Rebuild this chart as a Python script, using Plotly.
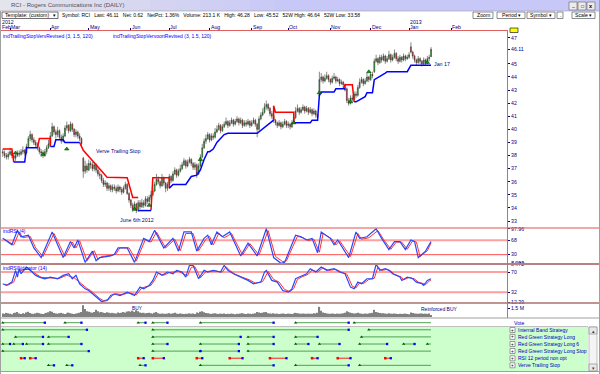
import plotly.graph_objects as go
import pandas as pd

FONT = "Liberation Sans"
NAVY = "#000080"

# ---------------- data ----------------
dates = list(pd.bdate_range("2012-02-24", "2013-01-17"))  # 235 trading days

opens = [38.3,38.2,38.0,37.9,38.1,38.3,38.0,37.8,38.0,38.2,
 38.1,38.3,38.4,38.2,38.7,39.3,39.6,39.2,39.0,38.8,
 38.6,38.3,38.2,38.0,38.3,38.6,38.9,39.5,40.2,39.8,
 39.6,39.9,39.4,39.1,39.5,40.1,40.3,39.9,40.4,40.0,
 39.6,39.8,39.5,39.3,37.8,36.8,37.2,36.9,37.4,37.3,
 37.0,37.3,36.9,36.6,36.5,36.1,35.8,35.9,35.5,35.7,
 35.4,35.6,35.5,35.3,35.6,35.4,35.2,35.5,35.8,35.1,
 34.6,34.2,33.9,34.3,33.8,34.4,34.1,34.4,34.2,34.7,
 34.5,34.8,35.0,35.3,35.8,36.2,36.0,35.7,36.3,35.9,
 35.5,35.8,36.4,36.1,36.6,36.9,36.5,36.8,37.0,37.3,
 37.6,37.2,37.5,37.7,37.4,37.1,37.3,36.6,37.2,37.9,
 38.6,39.1,39.3,39.6,39.2,39.5,39.4,39.8,40.0,40.3,
 39.9,40.2,40.4,40.6,40.3,40.5,40.7,40.4,40.6,40.8,
 40.5,40.7,40.3,40.5,40.4,40.6,40.3,40.5,40.7,40.4,
 40.0,40.8,41.1,41.3,41.7,41.9,41.6,41.2,41.0,40.7,
 40.5,40.3,40.5,40.2,40.4,40.6,40.3,40.4,40.2,40.5,
 40.9,41.4,41.6,41.3,41.5,41.7,41.4,41.6,41.3,41.5,
 41.2,41.4,41.1,42.6,43.8,44.0,43.7,43.9,44.1,43.8,
 43.6,43.9,44.0,43.7,43.8,43.5,43.6,43.4,43.1,42.2,
 42.0,42.4,42.3,42.7,42.6,43.2,43.6,43.8,43.5,43.7,
 44.0,43.8,44.2,44.4,45.2,45.4,45.1,45.5,45.3,45.6,
 45.2,45.4,45.7,45.3,45.5,45.8,45.4,45.2,45.5,45.3,
 45.6,45.4,45.5,46.3,45.9,45.6,45.3,45.1,45.4,45.2,
 45.0,45.3,45.1,45.4,45.55]

closes = [38.2,38.0,37.9,38.1,38.3,38.0,37.8,38.0,38.2,38.1,
 38.3,38.4,38.2,38.7,39.3,39.6,39.2,39.0,38.8,38.6,
 38.3,38.2,38.0,38.3,38.6,38.9,39.5,40.2,39.8,39.6,
 39.9,39.4,39.1,39.5,40.1,40.3,39.9,40.4,40.0,39.6,
 39.8,39.5,39.3,38.9,36.8,37.2,36.9,37.4,37.3,37.0,
 37.3,36.9,36.6,36.5,36.1,35.8,35.9,35.5,35.7,35.4,
 35.6,35.5,35.3,35.6,35.4,35.2,35.5,35.8,35.1,34.6,
 34.2,33.9,34.3,33.8,34.4,34.1,34.4,34.2,34.7,34.5,
 34.8,35.0,35.3,35.8,36.2,36.0,35.7,36.3,35.9,35.5,
 35.8,36.4,36.1,36.6,36.9,36.5,36.8,37.0,37.3,37.6,
 37.2,37.5,37.7,37.4,37.1,37.3,36.6,37.2,37.9,38.6,
 39.1,39.3,39.6,39.2,39.5,39.4,39.8,40.0,40.3,39.9,
 40.2,40.4,40.6,40.3,40.5,40.7,40.4,40.6,40.8,40.5,
 40.7,40.3,40.5,40.4,40.6,40.3,40.5,40.7,40.4,40.0,
 40.8,41.1,41.3,41.7,41.9,41.6,41.2,41.0,40.7,40.5,
 40.3,40.5,40.2,40.4,40.6,40.3,40.4,40.2,40.5,40.9,
 41.4,41.6,41.3,41.5,41.7,41.4,41.6,41.3,41.5,41.2,
 41.4,41.1,40.9,43.8,44.0,43.7,43.9,44.1,43.8,43.6,
 43.9,44.0,43.7,43.8,43.5,43.6,43.4,43.0,42.2,42.0,
 42.4,42.3,42.7,42.6,43.2,43.6,43.8,43.5,43.7,44.0,
 43.8,44.2,44.1,45.2,45.4,45.1,45.5,45.3,45.6,45.2,
 45.4,45.7,45.3,45.5,45.8,45.4,45.2,45.5,45.3,45.6,
 45.4,45.5,45.7,45.9,45.6,45.3,45.1,45.4,45.2,45.0,
 45.3,45.1,45.4,45.49,46.11]

highs = [38.5,38.4,38.2,38.3,38.6,38.4,38.1,38.2,38.4,38.4,
 38.5,38.7,38.5,38.9,39.5,39.9,39.7,39.4,39.2,39.0,
 38.7,38.5,38.4,38.5,38.8,39.2,39.8,40.5,40.3,40.0,
 40.2,40.0,39.6,39.7,40.3,40.6,40.4,40.6,40.5,40.1,
 40.0,39.9,39.7,39.4,37.9,37.6,37.4,37.7,37.6,37.5,
 37.5,37.4,37.1,36.8,36.6,36.3,36.1,36.0,35.9,35.8,
 35.8,35.8,35.7,35.8,35.7,35.6,35.7,36.0,35.9,35.2,
 34.7,34.4,34.5,34.4,34.6,34.6,34.7,34.6,34.9,34.9,
 35.0,35.3,35.5,36.0,36.6,36.4,36.1,36.6,36.4,36.0,
 36.0,36.6,36.5,36.8,37.1,37.0,37.0,37.3,37.5,37.8,
 37.7,37.7,37.9,37.8,37.5,37.5,37.4,37.4,38.1,38.9,
 39.3,39.6,39.8,39.7,39.7,39.7,40.1,40.3,40.5,40.4,
 40.4,40.6,40.9,40.7,40.7,40.9,40.8,40.8,41.0,40.9,
 40.9,40.8,40.7,40.7,40.8,40.7,40.7,40.9,40.8,40.5,
 41.0,41.3,41.6,42.0,42.2,42.0,41.7,41.4,41.1,40.8,
 40.6,40.7,40.6,40.6,40.8,40.7,40.6,40.5,40.7,41.1,
 41.7,41.9,41.7,41.7,41.9,41.8,41.8,41.7,41.7,41.6,
 41.6,41.5,41.2,44.4,44.3,44.1,44.2,44.4,44.2,43.9,
 44.1,44.3,44.1,44.0,43.9,43.8,43.7,43.5,43.2,42.4,
 42.6,42.6,42.9,42.9,43.4,43.9,44.0,43.9,43.9,44.3,
 44.1,44.4,44.4,45.4,45.7,45.5,45.7,45.7,45.8,45.7,
 45.6,46.0,45.8,45.7,46.1,45.9,45.6,45.7,45.6,45.8,
 45.7,45.7,45.9,46.64,46.0,45.7,45.4,45.6,45.5,45.3,
 45.5,45.4,45.6,45.7,46.28]

lows = [37.9,37.8,37.7,37.7,38.0,37.8,37.6,37.6,37.9,37.9,
 38.0,38.1,38.0,38.1,38.6,39.1,39.0,38.8,38.6,38.4,
 38.1,37.9,37.8,37.9,38.1,38.5,38.8,39.4,39.6,39.3,
 39.4,39.2,38.9,39.0,39.4,39.9,39.7,39.8,39.8,39.4,
 39.4,39.3,39.1,38.7,36.3,36.6,36.7,36.8,37.0,36.8,
 36.8,36.7,36.4,36.2,35.9,35.6,35.6,35.3,35.3,35.2,
 35.2,35.3,35.1,35.2,35.2,35.0,35.1,35.4,35.0,34.4,
 34.0,33.7,33.8,33.6,33.7,33.9,34.0,34.0,34.1,34.3,
 34.3,34.6,34.9,35.2,35.7,35.8,35.5,35.6,35.7,35.2,
 35.3,35.7,35.9,36.0,36.5,36.3,36.4,36.7,36.9,37.2,
 37.0,37.1,37.4,37.2,36.9,36.9,36.3,36.5,37.1,37.8,
 38.5,38.9,39.2,39.0,39.1,39.2,39.3,39.7,39.9,39.7,
 39.8,40.1,40.3,40.1,40.2,40.4,40.2,40.3,40.5,40.3,
 40.4,40.1,40.2,40.2,40.3,40.1,40.2,40.4,40.2,39.4,
 39.9,40.7,41.0,41.2,41.5,41.4,41.0,40.8,40.5,40.3,
 40.1,40.2,40.0,40.1,40.3,40.1,40.1,40.0,40.1,40.4,
 40.8,41.3,41.1,41.2,41.4,41.2,41.3,41.1,41.2,41.0,
 41.1,40.9,40.7,42.5,43.6,43.5,43.6,43.8,43.6,43.4,
 43.5,43.8,43.5,43.6,43.3,43.4,43.2,42.9,42.0,41.8,
 41.9,42.1,42.2,42.4,42.5,43.1,43.5,43.3,43.4,43.6,
 43.6,43.7,43.9,44.3,45.1,44.9,45.0,45.1,45.2,45.0,
 45.1,45.3,45.1,45.2,45.4,45.2,45.0,45.1,45.1,45.2,
 45.2,45.3,45.4,45.8,45.4,45.1,44.9,45.0,45.0,44.8,
 44.9,44.9,45.0,45.2,45.52]

volumes_k = [420,380,510,460,390,350,480,520,610,430,370,450,390,560,640,480,410,380,440,520,
 470,390,360,430,510,580,720,650,480,420,390,460,510,430,380,450,540,470,410,380,
 430,460,520,610,1450,980,720,640,580,520,610,880,700,560,620,540,480,590,520,470,
 510,460,430,560,490,520,610,540,680,720,650,780,620,840,700,560,480,520,450,490,
 530,470,410,520,610,460,390,440,410,380,420,470,390,450,510,420,380,440,400,360,
 410,380,450,390,420,370,560,480,650,720,580,490,450,410,380,430,470,400,360,420,
 390,440,380,410,360,420,390,350,410,380,430,470,400,380,420,390,360,410,450,620,
 540,480,520,590,610,470,430,410,450,390,420,380,410,440,390,370,420,400,380,430,
 510,470,420,390,440,410,380,420,390,410,450,430,520,1250,780,560,480,430,410,390,
 440,410,380,420,390,410,460,520,720,610,530,480,440,470,520,450,410,380,430,400,
 420,460,510,880,620,540,480,440,470,420,400,450,410,390,430,400,380,410,360,390,
 420,380,350,560,480,430,410,390,440,420,380,410,390,430,213]

# trailing stops (trading-day index, level); None breaks the line
red_stop_idx = [0,5,6,None,19,20,26,26,None,42,44,51,57,68,71,74,None,81,82,91,91,None,
                148,148,149,159,159,None,186,187,191,192]
red_stop_val = [38.5,38.5,37.5,None,38.6,39.3,39.3,38.7,None,39.0,38.4,37.3,36.35,36.3,34.8,34.8,None,
                33.8,36.3,36.3,35.5,None,40.7,41.8,41.3,41.3,40.5,None,43.1,43.4,43.4,42.1]
blue_stop_idx = [6,12,13,19,None,26,28,29,33,34,42,None,74,81,None,
                 91,93,100,103,106,108,110,112,113,115,117,119,121,123,139,148,None,
                 159,168,169,172,173,174,181,182,187,None,
                 192,193,198,199,202,203,209,210,221,223,234]
blue_stop_val = [37.5,37.5,38.6,38.6,None,38.7,38.7,39.2,39.2,39.0,39.0,None,33.8,33.8,None,
                 35.5,35.8,35.8,36.4,36.5,36.9,37.7,38.3,38.3,38.5,39.0,39.3,39.6,39.7,39.7,40.7,None,
                 40.5,40.5,40.7,40.7,42.6,42.85,42.85,43.1,43.1,None,
                 42.1,42.1,42.5,42.8,42.8,43.8,44.3,44.4,44.4,44.9,44.9]

signal_idx = [7,22,35,72,80,108,159,173,190,200,232]
signal_price = [38.2,38.1,38.5,33.9,34.2,37.7,40.5,42.8,42.1,44.4,45.1]

# RSI(4) and its signal
rsi4_idx = [0,5,8,10,14,17,21,27,33,37,39,41,45,49,51,53,59,61,63,68,72,77,80,83,88,93,96,99,103,106,
            110,112,114,117,120,124,126,130,134,139,144,148,152,154,160,163,166,169,172,174,179,181,183,
            189,193,195,199,204,207,211,214,217,220,223,225,227,231,234]
rsi4_val = [72.8,56,93.8,77,81.2,47.6,22.4,89.6,22.4,64.4,47.6,68.6,9.8,39.2,14,22.4,26.6,30.8,47.6,47.6,
            9.8,72.8,64.4,93.8,47.6,72.8,39.2,89.6,89.6,39.2,72.8,81.2,56,89.6,77,89.6,68.6,26.6,60.2,26.6,
            98,22.4,7.3,9.8,81.2,77,68.6,72.8,35,89.6,72.8,56,68.6,22.4,89.6,72.8,77,98,72.8,43.4,
            64.4,64.4,43.4,68.6,64.4,22.4,39.2,64.4]
rsi4_sig_idx = [1,6,9,11,15,18,22,28,34,38,40,42,46,50,52,54,60,62,64,69,73,78,81,84,89,94,97,100,104,107,
                111,113,115,118,121,125,127,131,135,140,145,149,153,155,161,164,167,170,173,175,180,182,184,
                190,194,196,200,205,208,212,215,218,221,224,226,228,232,234]
rsi4_sig_val = [70.5,55.4,89.4,74.3,78.1,47.8,25.2,85.6,25.2,63,47.8,66.7,13.8,40.3,17.6,25.2,28.9,32.7,47.8,47.8,
                13.8,70.5,63,89.4,47.8,70.5,40.3,85.6,85.6,40.3,70.5,78.1,55.4,85.6,74.3,85.6,66.7,28.9,59.2,28.9,
                93.2,25.2,11.6,13.8,78.1,74.3,66.7,70.5,36.5,85.6,70.5,55.4,66.7,25.2,85.6,70.5,74.3,93.2,70.5,44.1,
                63,63,44.1,66.7,63,25.2,40.3,61]

# RSI indicator (14) and its signal
rsi14_idx = [0,2,5,7,8,9,10,13,16,18,20,23,26,30,33,36,38,40,42,45,47,50,52,54,57,59,61,64,68,72,
             75,77,80,82,84,87,90,93,95,98,100,102,104,107,110,112,115,119,121,123,126,130,134,137,141,143,144,
             147,150,153,156,158,160,162,166,168,171,174,177,181,184,187,190,192,194,196,199,202,204,206,
             209,211,213,217,218,221,224,226,229,230,232,234]
rsi14_val = [47.8,44.7,51,73.2,60.5,76.3,66.8,79.5,70,63.7,60.5,57.3,60.5,57.3,63.7,66.8,57.3,63.7,47.8,38.3,
             35.2,25.7,19.4,14.3,16.2,25.7,28.9,25.7,32,25.7,41.5,38.3,44.7,54.2,70,63.7,70,66.8,73.2,70,
             60.5,82.7,82.7,57.3,73.2,70,73.2,70,82.7,73.2,66.8,60.5,54.2,47.8,51,70,73.2,54.2,51,35.2,
             32,38.3,57.3,60.5,66.8,76.3,70,79.5,73.2,76.3,70,66.8,41.5,38.3,51,47.8,57.3,57.3,84.7,73.2,
             76.3,73.2,66.8,60.5,54.2,60.5,57.3,51,47.8,44.7,54.2,57.3]
rsi14_sig_idx = [1,3,6,8,10,14,17,21,25,31,35,39,43,46,48,51,53,55,58,60,62,65,69,73,76,81,83,85,88,91,
                 96,101,103,105,108,111,116,120,122,124,127,131,135,138,142,145,148,151,154,157,159,161,163,
                 167,169,172,175,178,182,185,188,191,193,195,197,200,203,205,207,210,212,214,218,219,222,225,
                 227,230,231,233,234]
rsi14_sig_val = [47,45.5,51,70,73,76,69,60,59,58,64,59,48,39,35,26,20,16,18,26,29,27,31,27,40,45,55,68,64,69,
                 71,63,79,80,59,71,72,70,80,73,66,60,55,49,52,71,56,51,37,33,39,56,60,66,74,70,78,73,75,70,
                 66,43,40,50,48,56,58,80,73,75,72,66,60,55,60,57,51,48,46,53,55]

# strategy position periods (trading-day index start / end)
vote_start = [0, 34, 74, 82, 108, 160, 192]
vote_end = [23, 43, 78, 90, 148, 189, 234]
ibs_start = [0, 82, 200]
ibs_end = [46, 189, 234]
rgl_start = [7, 25, 82, 134, 160, 196]
rgl_end = [22, 36, 130, 148, 172, 234]
rgl6_start = [0, 6, 13, 25, 82, 108, 134, 160, 173, 195, 219, 232]
rgl6_end = [4, 11, 22, 43, 90, 129, 148, 167, 184, 210, 225, 234]
rgls_start = [0, 82, 108, 134]
rgls_end = [47, 108, 129, 234]
rsi12_start = [10, 15, 74, 82, 106, 124, 146, 169, 183, 209]
rsi12_end = [12, 18, 77, 88, 109, 131, 155, 172, 190, 212]
verve_start = [25, 35, 75, 108, 160, 195]
verve_end = [28, 38, 78, 148, 189, 234]

strategy_names = ["Internal Band Strategy", "Red Green Strategy Long", "Red Green Strategy Long 6",
                  "Red Green Strategy Long Stop", "RSI 12 period non opt", "Verve Trailing Stop"]

price_ticks = [33, 34, 35, 36, 37, 38, 39, 40, 41, 42, 43, 44, 45, 46.11, 47]
price_tick_text = ["33", "34", "35", "36", "37", "38", "39", "40", "41", "42", "43", "44", "45", "46.11", "47"]
rsi4_ticks = [7.293, 30, 68, 97.96]
rsi4_tick_text = ["7.293", "30", "68", "97.96"]
rsi14_ticks = [12.39, 32, 70, 84.72]
rsi14_tick_text = ["12.39", "32", "70", "84.72"]
month_ticks = ["2012-03-01", "2012-04-02", "2012-05-01", "2012-06-01", "2012-07-02", "2012-08-01",
               "2012-09-03", "2012-10-01", "2012-11-01", "2012-12-03", "2013-01-01", "2013-02-01"]
month_names = ["Mar", "Apr", "May", "Jun", "Jul", "Aug", "Sep", "Oct", "Nov", "Dec", "Jan", "Feb"]

# ---------------- helpers ----------------
W, H = 600, 374
def PX(x): return x / W
def PY(y): return 1 - y / H
def D(i): return None if i is None else dates[i]

fig = go.Figure()

# ---------------- price panel ----------------
fig.add_trace(go.Candlestick(
    x=dates, open=opens, high=highs, low=lows, close=closes,
    increasing=dict(line=dict(color="#3a3a3a", width=0.6), fillcolor="#00c000"),
    decreasing=dict(line=dict(color="#3a3a3a", width=0.6), fillcolor="#ff1010"),
    whiskerwidth=0, xaxis="x", yaxis="y", hoverinfo="skip"))

fig.add_trace(go.Scatter(x=[D(i) for i in red_stop_idx], y=red_stop_val, mode="lines",
                         line=dict(color="#ff0000", width=1.5), xaxis="x", yaxis="y", hoverinfo="skip"))
fig.add_trace(go.Scatter(x=[D(i) for i in blue_stop_idx], y=blue_stop_val, mode="lines",
                         line=dict(color="#0000ff", width=1.5), xaxis="x", yaxis="y", hoverinfo="skip"))
fig.add_trace(go.Scatter(x=[D(i) for i in signal_idx], y=signal_price, mode="markers",
                         marker=dict(symbol="triangle-up", size=4, color="#00a000",
                                     line=dict(color="#003000", width=0.5)),
                         xaxis="x", yaxis="y", hoverinfo="skip"))

# ---------------- RSI(4) ----------------
fig.add_trace(go.Scatter(x=[D(i) for i in rsi4_sig_idx], y=rsi4_sig_val, mode="lines",
                         line=dict(color="#ff3030", width=1), xaxis="x", yaxis="y2", hoverinfo="skip"))
fig.add_trace(go.Scatter(x=[D(i) for i in rsi4_idx], y=rsi4_val, mode="lines",
                         line=dict(color="#2848ff", width=1.2), xaxis="x", yaxis="y2", hoverinfo="skip"))

# ---------------- RSI indicator (14) ----------------
fig.add_trace(go.Scatter(x=[D(i) for i in rsi14_sig_idx], y=rsi14_sig_val, mode="lines",
                         line=dict(color="#ff3030", width=1), xaxis="x", yaxis="y3", hoverinfo="skip"))
fig.add_trace(go.Scatter(x=[D(i) for i in rsi14_idx], y=rsi14_val, mode="lines",
                         line=dict(color="#2848ff", width=1.2), xaxis="x", yaxis="y3", hoverinfo="skip"))

# ---------------- volume ----------------
fig.add_trace(go.Bar(x=dates, y=[v * 1000 for v in volumes_k], marker=dict(color="#808080", line=dict(width=0)),
                     xaxis="x", yaxis="y4", hoverinfo="skip"))

# ---------------- vote / strategy rows ----------------
rows = [(vote_start, vote_end, "#50a050"), (ibs_start, ibs_end, "#50a050"), (rgl_start, rgl_end, "#50a050"),
        (rgl6_start, rgl6_end, "#50a050"), (rgls_start, rgls_end, "#50a050"),
        (rsi12_start, rsi12_end, "#ff2020"), (verve_start, verve_end, "#50a050")]
last = len(dates) - 1
for r, (st, en, col) in enumerate(rows):
    xs, ys = [], []
    for a, b in zip(st, en):
        xs += [D(a), D(b), None]
        ys += [r, r, None]
    fig.add_trace(go.Scatter(x=xs, y=ys, mode="lines", line=dict(color=col, width=1),
                             xaxis="x", yaxis="y5", hoverinfo="skip"))
    is_rsi = col == "#ff2020"
    fig.add_trace(go.Scatter(x=[D(a) for a in st], y=[r] * len(st), mode="markers",
                             marker=dict(symbol="square" if is_rsi else "triangle-up", size=2.5 if is_rsi else 3,
                                         color="#ff0000" if is_rsi else "#006000", line=dict(width=0)),
                             xaxis="x", yaxis="y5", hoverinfo="skip"))
    ends = [b for b in en if b < last]
    fig.add_trace(go.Scatter(x=[D(b) for b in ends], y=[r] * len(ends),
                             mode="markers", marker=dict(symbol="square", size=2.3, color="#0000ff", line=dict(width=0)),
                             xaxis="x", yaxis="y5", hoverinfo="skip"))

# ---------------- shapes ----------------
shapes = []
def rect(x0, y0, x1, y1, fill=None, line=None, lw=1, layer="below"):
    shapes.append(dict(type="rect", xref="paper", yref="paper", x0=PX(x0), x1=PX(x1), y0=PY(y1), y1=PY(y0),
                       fillcolor=fill if fill else "rgba(0,0,0,0)",
                       line=dict(color=line if line else "rgba(0,0,0,0)", width=lw if line else 0), layer=layer))
def hline(x0, x1, y, color, lw=1, layer="above"):
    shapes.append(dict(type="line", xref="paper", yref="paper", x0=PX(x0), x1=PX(x1), y0=PY(y), y1=PY(y),
                       line=dict(color=color, width=lw), layer=layer))
def vline(x, y0, y1, color, lw=1, layer="above"):
    shapes.append(dict(type="line", xref="paper", yref="paper", x0=PX(x), x1=PX(x), y0=PY(y0), y1=PY(y1),
                       line=dict(color=color, width=lw), layer=layer))

# title bar gradient
steps = 12
for k in range(steps):
    t = k / (steps - 1)
    c = (int(228 - 28 * t), int(228 - 28 * t), int(236 + 12 * t))
    rect(k * 300 / steps, 0, (k + 1) * 300 / steps + 0.5, 11, fill="rgb(%d,%d,%d)" % c, layer="above")
rect(300, 0, 600, 11, fill="rgb(200,200,248)", layer="above")
for bx in [569, 578, 587]:
    rect(bx, 2, bx + 8, 10, fill="#ececec", line="#606060", lw=0.6, layer="above")

# toolbar boxes
rect(2, 12, 58, 18.5, line="#303030", lw=0.7, layer="above")
for x0, x1 in [(473, 493), (497, 525), (527, 555), (557, 563), (572, 595)]:
    rect(x0, 12, x1, 18.5, line="#404040", lw=0.6, layer="above")

# RSI level lines
shapes.append(dict(type="line", xref="paper", yref="y2", x0=0, x1=PX(507), y0=68, y1=68,
                   line=dict(color="#ffa0a0", width=2), layer="below"))
shapes.append(dict(type="line", xref="paper", yref="y2", x0=0, x1=PX(507), y0=30, y1=30,
                   line=dict(color="#ff5050", width=1), layer="below"))
shapes.append(dict(type="line", xref="paper", yref="y3", x0=0, x1=PX(507), y0=70, y1=70,
                   line=dict(color="#ffa0a0", width=2), layer="below"))
shapes.append(dict(type="line", xref="paper", yref="y3", x0=0, x1=PX(507), y0=32, y1=32,
                   line=dict(color="#ffa0a0", width=2), layer="below"))

# panel separators
hline(0, 600, 228, "#e05050", 1)
hline(0, 600, 264, "#b88080", 2)
hline(0, 600, 303, "#a87070", 1.5)
hline(0, 600, 318, "#a0a0a0", 1)
vline(507.5, 31, 318, "#c07070", 1)

# vote panel
rect(0, 327, 588, 371, fill="#ccffcc", layer="below")
hline(0, 588, 326.5, "#b0b0b0", 0.8)
hline(0, 600, 371.5, "#a0a0a0", 1)
rect(589, 327, 597, 371, fill="#f4f4f4", line="#a0a0a0", lw=0.6, layer="above")
rect(589, 327, 597, 334, fill="#e8e8e8", line="#808080", lw=0.6, layer="above")
rect(589, 364, 597, 371, fill="#e8e8e8", line="#808080", lw=0.6, layer="above")
row_y = [330, 336.9, 344, 351, 358.3, 365.3]
for yy in row_y:
    rect(510, yy - 2.5, 515, yy + 2.5, fill="#ffffff", line="#606060", lw=0.6, layer="above")

# last price marker
rect(510, 28, 518, 32.5, fill="#ffff00", line="#202020", lw=0.7, layer="above")

# window borders
vline(0.5, 11, 374, "#a0a0a0", 1)
vline(599.5, 0, 374, "#a0a0a0", 1)
hline(0, 600, 11, "#a0a0a0", 0.6)

# ---------------- annotations ----------------
ann = []
def txt(px, py, s, size=5.5, color=NAVY, anchor="left", bold=False):
    ann.append(dict(xref="paper", yref="paper", x=PX(px), y=PY(py), text=("<b>%s</b>" % s) if bold else s,
                    showarrow=False, xanchor=anchor, yanchor="middle", borderpad=0,
                    font=dict(family=FONT, size=size, color=color)))

txt(10, 5.5, "RCI - Rogers Communications Inc (DAILY)", 6, "#505050")
txt(573, 5.0, "_", 5, "#000000", "center")
txt(582, 6, "□", 5, "#000000", "center")
txt(591, 6, "x", 5.5, "#000000", "center", bold=True)
txt(4, 15.3, "Template: (custom)", 5.2, "#000000")
txt(52, 15.3, "▾", 5.2, "#000000")
txt(61, 15.3, "Symbol: RCI   Last: 46.11   Net: 0.62   NetPct: 1.36%   Volume: 213.1 K   High: 46.28   "
              "Low: 45.52   52W High: 46.64   52W Low: 33.58", 5.0, "#000000")
txt(483, 15.3, "Zoom", 5.2, "#000000", "center")
txt(511, 15.3, "Period ▾", 5.2, "#000000", "center")
txt(541, 15.3, "Symbol ▾", 5.2, "#000000", "center")
txt(560, 15.3, ".", 5.2, "#000000", "center")
txt(583.5, 15.3, "Scale ▾", 5.2, "#000000", "center")

txt(1, 22, "2012", 5.2)
txt(1, 27, "Feb", 5.2)
for d, name in zip(month_ticks, month_names):
    ann.append(dict(xref="x", yref="paper", x=d, y=PY(27), text=name, showarrow=False, xanchor="left",
                    yanchor="middle", borderpad=0, font=dict(family=FONT, size=5.2, color=NAVY)))
ann.append(dict(xref="x", yref="paper", x="2013-01-01", y=PY(22), text="2013", showarrow=False,
                xanchor="left", yanchor="middle", borderpad=0, font=dict(family=FONT, size=5.2, color=NAVY)))

txt(2, 36, "indTrailingStopVervRevised (3, 1.5, 120)", 5.0, "#0000ff")
txt(112, 36, "indTrailingStopVervoortRevised (3, 1.5, 120)", 5.0, "#0000ff")
txt(95, 151, "Verve Trailing Stop", 5.3, NAVY)
txt(137, 219.5, "June 6th 2012", 5.3, NAVY, "center")
txt(433, 64, "Jan 17", 5.3, NAVY)
txt(2, 231, "indRSI (4)", 5.0, "#0000ff")
txt(2, 268, "indRSINdicator (14)", 5.0, "#0000ff")
txt(137, 308.5, "BUY", 4.8, NAVY, "center")
txt(440, 308.5, "Reinforced BUY", 5.0, NAVY, "center")
txt(513, 322.7, "Vote", 5.2, "#0000c0")
for yy, name in zip(row_y, strategy_names):
    txt(512.5, yy, "+", 4.5, "#000000", "center")
    txt(516.5, yy, name, 5.0, "#0000c0")
txt(593, 330.5, "▴", 5, "#404040", "center")
txt(593, 367.5, "▾", 5, "#404040", "center")

# ---------------- layout ----------------
axis_common = dict(side="right", anchor="x", showgrid=False, zeroline=False, showline=True,
                   linecolor="#c07070", linewidth=1, ticks="outside", ticklen=2, tickcolor=NAVY,
                   tickfont=dict(family=FONT, size=5.2, color=NAVY), fixedrange=True, automargin=False)

fig.update_layout(
    width=W, height=H, margin=dict(l=0, r=0, t=0, b=0, pad=0), autosize=False,
    paper_bgcolor="white", plot_bgcolor="white", showlegend=False, bargap=0.2,
    font=dict(family=FONT, size=6, color=NAVY),
    xaxis=dict(domain=[0, PX(507)], type="date", range=["2012-02-22 12:00", "2013-03-15 12:00"],
               rangebreaks=[dict(bounds=["sat", "mon"])], anchor="y", side="top",
               showline=True, linecolor="#e06060", linewidth=1, ticks="outside", ticklen=2,
               tickcolor=NAVY, tickvals=month_ticks, showticklabels=False, showgrid=False,
               zeroline=False, rangeslider=dict(visible=False), fixedrange=True, automargin=False),
    yaxis=dict(domain=[PY(228), PY(31)], range=[32.47, 47.51], tickvals=price_ticks,
               ticktext=price_tick_text, **axis_common),
    yaxis2=dict(domain=[PY(264), PY(228)], range=[5.5, 100], tickvals=rsi4_ticks,
                ticktext=rsi4_tick_text, **axis_common),
    yaxis3=dict(domain=[PY(303), PY(264)], range=[11.5, 85.2], tickvals=rsi14_ticks,
                ticktext=rsi14_tick_text, **axis_common),
    yaxis4=dict(domain=[PY(317), PY(304)], range=[0, 1.6e6], tickvals=[1.05e6],
                ticktext=["1.5 M"], **axis_common),
    yaxis5=dict(domain=[PY(371), PY(318)], range=[6.8, -0.66], anchor="x", visible=False,
                fixedrange=True, automargin=False),
    shapes=shapes, annotations=ann,
)

fig.write_html("out.html", config={"displayModeBar": False},
               post_script="document.body.style.margin='0px';document.body.style.overflow='hidden';")
